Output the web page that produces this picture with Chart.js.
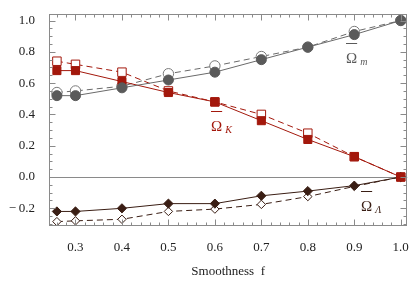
<!DOCTYPE html>
<html>
<head>
<meta charset="utf-8">
<script src="https://cdn.jsdelivr.net/npm/chart.js@4"></script>
<style>
  html, body { margin: 0; padding: 0; background: #fff; }
  #wrap { width: 415px; height: 283px; }
</style>
</head>
<body>
<div id="wrap"><canvas id="c" width="415" height="283"></canvas></div>
<script>
// ── Data ──
const smoothness = [0.26, 0.3, 0.4, 0.5, 0.6, 0.7, 0.8, 0.9, 1.0];
const omegaM     = [0.52, 0.52, 0.57, 0.62, 0.67, 0.75, 0.83, 0.91, 1.0];
const omegaMOpen = [0.54, 0.55, 0.58, 0.66, 0.71, 0.77, 0.83, 0.93, 1.0];
const omegaK     = [0.68, 0.68, 0.61, 0.54, 0.48, 0.36, 0.24, 0.13, 0.0];
const omegaKOpen = [0.74, 0.72, 0.67, 0.55, 0.48, 0.40, 0.28, 0.13, 0.0];
const omegaL     = [-0.22, -0.22, -0.20, -0.17, -0.17, -0.12, -0.09, -0.055, 0.0];
const omegaLOpen = [-0.285, -0.28, -0.27, -0.22, -0.205, -0.175, -0.125, -0.06, 0.0];
const xTicks = [0.3, 0.4, 0.5, 0.6, 0.7, 0.8, 0.9, 1.0];
const yTicks = [-0.2, 0.0, 0.2, 0.4, 0.6, 0.8, 1.0];

const GRAY = '#5a5a5a', RED = '#a3180c', DARK = '#3a1e14';
const SERIF = "'Liberation Serif', 'DejaVu Serif', serif";

const pts = ys => ys.map((y, i) => ({ x: smoothness[i], y }));

function ds(data, color, style, radius, open, line) {
  return {
    data: pts(data),
    borderColor: line || color, borderWidth: 1,
    borderDash: open ? [6, 4] : [],
    pointStyle: style, pointRadius: radius, pointHoverRadius: radius,
    pointBackgroundColor: open ? '#fff' : color,
    pointBorderColor: color, pointBorderWidth: 1,
    fill: false, tension: 0
  };
}

// Frame with inward ticks on all sides, zero line and labels
const framePlugin = {
  id: 'frame',
  beforeDatasetsDraw(chart) {
    const { ctx, chartArea: a, scales: { y } } = chart;
    ctx.save();
    ctx.strokeStyle = '#8a8a8a'; ctx.lineWidth = 1;
    const y0 = Math.round(y.getPixelForValue(0)) + 0.5;
    ctx.beginPath(); ctx.moveTo(a.left, y0); ctx.lineTo(a.right, y0); ctx.stroke();
    ctx.restore();
  },
  afterDatasetsDraw(chart) {
    const { ctx, chartArea: a, scales: { x, y } } = chart;
    ctx.save();
    ctx.strokeStyle = '#8a8a8a'; ctx.lineWidth = 1;
    const L = Math.round(a.left) + 0.5, R = Math.round(a.right) - 0.5;
    const T = Math.round(a.top) + 0.5, B = Math.round(a.bottom) - 0.5;
    ctx.strokeRect(L, T, R - L, B - T);
    ctx.beginPath();
    for (let i = 13; i <= 50; i++) {
      const v = i / 50, px = Math.round(x.getPixelForValue(v)) + 0.5;
      if (px <= L || px >= R) continue;
      const len = (i % 5 === 0) ? 6 : 3;
      ctx.moveTo(px, B); ctx.lineTo(px, B - len);
      ctx.moveTo(px, T); ctx.lineTo(px, T + len);
    }
    for (let i = -6; i <= 20; i++) {
      const v = i / 20, py = Math.round(y.getPixelForValue(v)) + 0.5;
      if (py <= T || py >= B) continue;
      const len = (i % 4 === 0) ? 6 : 3;
      ctx.moveTo(L, py); ctx.lineTo(L + len, py);
      ctx.moveTo(R, py); ctx.lineTo(R - len, py);
    }
    ctx.stroke();
    ctx.restore();

    const label = (cx, cy, sub, color) => {
      ctx.save();
      ctx.fillStyle = color; ctx.strokeStyle = color; ctx.lineWidth = 1;
      ctx.font = '15px ' + SERIF; ctx.textBaseline = 'alphabetic';
      ctx.fillText('Ω', cx, cy);
      const w = ctx.measureText('Ω').width;
      ctx.beginPath(); ctx.moveTo(cx, cy - 19.5); ctx.lineTo(cx + w, cy - 19.5); ctx.stroke();
      ctx.font = 'italic 10px ' + SERIF;
      ctx.fillText(sub, cx + w + 3, cy + 2);
      ctx.restore();
    };
    label(346, 63, 'm', GRAY);
    label(211, 131, 'K', RED);
    label(361, 211, 'Λ', DARK);
  }
};

new Chart(document.getElementById('c'), {
  type: 'line',
  data: {
    datasets: [
      ds(omegaM, GRAY, 'circle', 5, false, '#6a6a6a'),
      ds(omegaK, RED, 'rect', 5.7, false),
      ds(omegaL, DARK, 'rectRot', 4.6, false),
      ds(omegaMOpen, '#7a7a7a', 'circle', 5.2, true, '#6a6a6a'),
      ds(omegaKOpen, RED, 'rect', 6, true),
      ds(omegaLOpen, DARK, 'rectRot', 4.2, true)
    ]
  },
  options: {
    responsive: false, animation: false,
    layout: { padding: { top: 5, right: 7, left: 0, bottom: 0 } },
    plugins: { legend: { display: false }, tooltip: { enabled: false } },
    scales: {
      x: {
        type: 'linear', min: 0.243, max: 1.014,
        grid: { display: false }, border: { display: false },
        afterBuildTicks: s => { s.ticks = xTicks.map(v => ({ value: v })); },
        afterFit: s => { s.height = 57; },
        ticks: { padding: 6, color: '#222', font: { family: SERIF, size: 13 },
                 callback: v => v.toFixed(1) },
        title: { display: true, text: 'Smoothness  f', color: '#222',
                 font: { family: SERIF, size: 13 }, padding: { top: 4 } }
      },
      y: {
        min: -0.313, max: 1.043,
        grid: { display: false }, border: { display: false },
        afterBuildTicks: s => { s.ticks = yTicks.map(v => ({ value: v })); },
        afterFit: s => { s.width = 49; },
        ticks: { padding: 6, color: '#222', font: { family: SERIF, size: 13 },
                 callback: v => v < 0 ? '\u2212\u2009' + Math.abs(v).toFixed(1) : v.toFixed(1) }
      }
    }
  },
  plugins: [framePlugin]
});
</script>
</body>
</html>
